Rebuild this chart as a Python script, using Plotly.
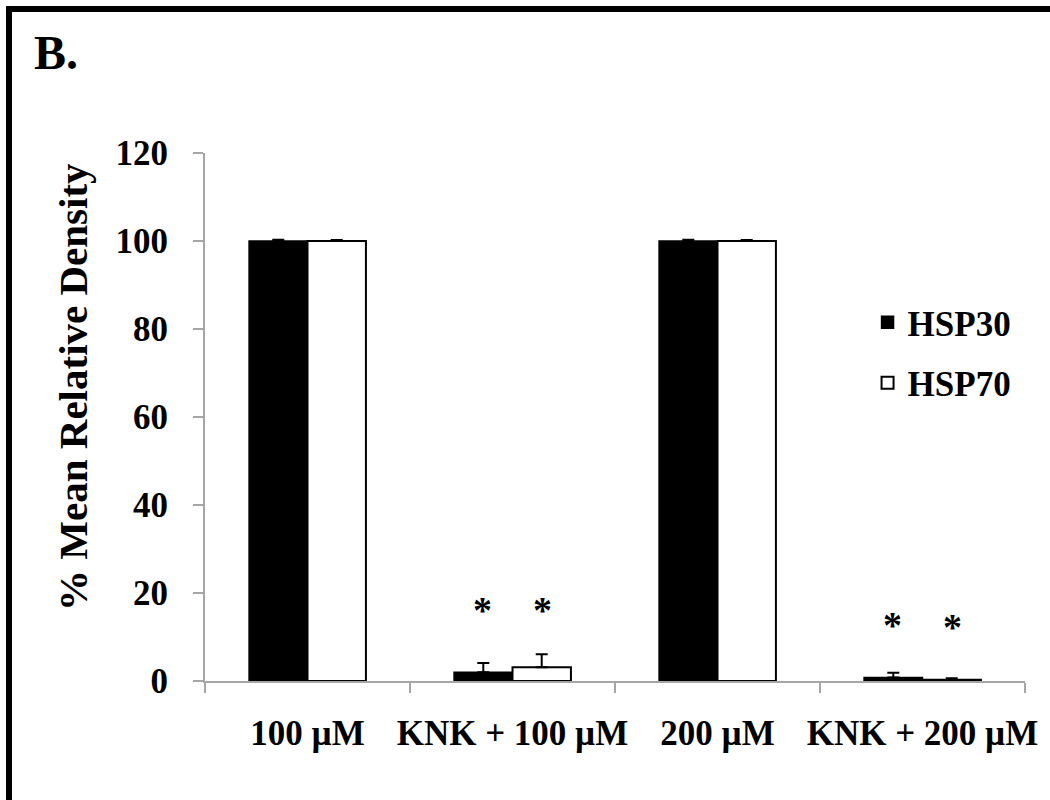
import plotly.graph_objects as go

# Densitometry of HSP30 / HSP70 bands (% of untreated control)
categories = ["100 µM", "KNK + 100 µM", "200 µM", "KNK + 200 µM"]
hsp30 = [100, 2.0, 100, 0.8]
hsp30_err = [0.3, 2.1, 0.3, 1.1]
hsp70 = [100, 3.1, 100, 0.3]
hsp70_err = [0.2, 3.0, 0.2, 0.3]
y_ticks = [0, 20, 40, 60, 80, 100, 120]

# significance markers: (category, series side, y position)
sig_marks = [
    ("KNK + 100 µM", -1, 16.1),
    ("KNK + 100 µM", 1, 16.1),
    ("KNK + 200 µM", -1, 12.8),
    ("KNK + 200 µM", 1, 12.2),
]

FONT = "Liberation Serif, Times New Roman, serif"
TICK_SIZE = 35

fig = go.Figure()
fig.add_trace(go.Bar(
    x=categories, y=hsp30, name="HSP30", legendgroup="a",
    marker=dict(color="black", line=dict(color="black", width=1.5)),
    error_y=dict(type="data", array=hsp30_err, symmetric=False,
                 arrayminus=[0] * len(hsp30_err),
                 color="black", thickness=2, width=6),
))
fig.add_trace(go.Bar(
    x=categories, y=hsp70, name="HSP70", legendgroup="b",
    marker=dict(color="white", line=dict(color="black", width=2)),
    error_y=dict(type="data", array=hsp70_err, symmetric=False,
                 arrayminus=[0] * len(hsp70_err),
                 color="black", thickness=2, width=6),
))

for cat, side, yv in sig_marks:
    fig.add_annotation(x=cat, y=yv, xref="x", yref="y", text="*",
                       showarrow=False, xshift=30 * side,
                       font=dict(family=FONT, size=38, color="black"))

# y-axis title
fig.add_annotation(x=-0.161, y=0.557, xref="paper", yref="paper",
                   text="% Mean Relative Density", showarrow=False,
                   textangle=-90, xanchor="center", yanchor="middle",
                   font=dict(family=FONT, size=41, color="black", weight="bold"))

# panel letter
fig.add_annotation(x=-0.211, y=1.191, xref="paper", yref="paper",
                   text="B.", showarrow=False, xanchor="left", yanchor="middle",
                   font=dict(family=FONT, size=48, color="black", weight="bold"))

# panel frame (left and top edges visible)
fig.add_shape(type="rect", xref="paper", yref="paper",
              x0=-0.239, y0=-2, x1=2, y1=1.2727,
              line=dict(color="black", width=6), fillcolor="rgba(0,0,0,0)")

fig.update_layout(
    width=1050, height=800,
    margin=dict(l=205, r=25, t=153, b=119, autoexpand=False),
    paper_bgcolor="white", plot_bgcolor="white",
    font=dict(family=FONT, size=TICK_SIZE, color="black", weight="bold"),
    barmode="group", bargap=0.43, bargroupgap=0,
    showlegend=True,
    legend=dict(x=0.808, y=0.735, xanchor="left", yanchor="top",
                bgcolor="rgba(0,0,0,0)", tracegroupgap=12,
                font=dict(family=FONT, size=TICK_SIZE, color="black", weight="bold")),
    xaxis=dict(
        type="category", showline=True, linecolor="#a6a6a6", linewidth=2,
        ticks="outside", ticklen=10, tickwidth=2, tickcolor="#a6a6a6",
        tickson="boundaries", ticklabelstandoff=20, showgrid=False,
        tickangle=0, automargin=False,
        tickfont=dict(family=FONT, size=TICK_SIZE, color="black", weight="bold"),
    ),
    yaxis=dict(
        range=[0, 120], tickvals=y_ticks, showline=True,
        linecolor="#a6a6a6", linewidth=2, ticks="outside", ticklen=10,
        tickwidth=2, tickcolor="#a6a6a6", showgrid=False, zeroline=False,
        ticklabelstandoff=18, automargin=False,
        tickfont=dict(family=FONT, size=TICK_SIZE, color="black", weight="bold"),
    ),
)

fig.write_html("out.html")
